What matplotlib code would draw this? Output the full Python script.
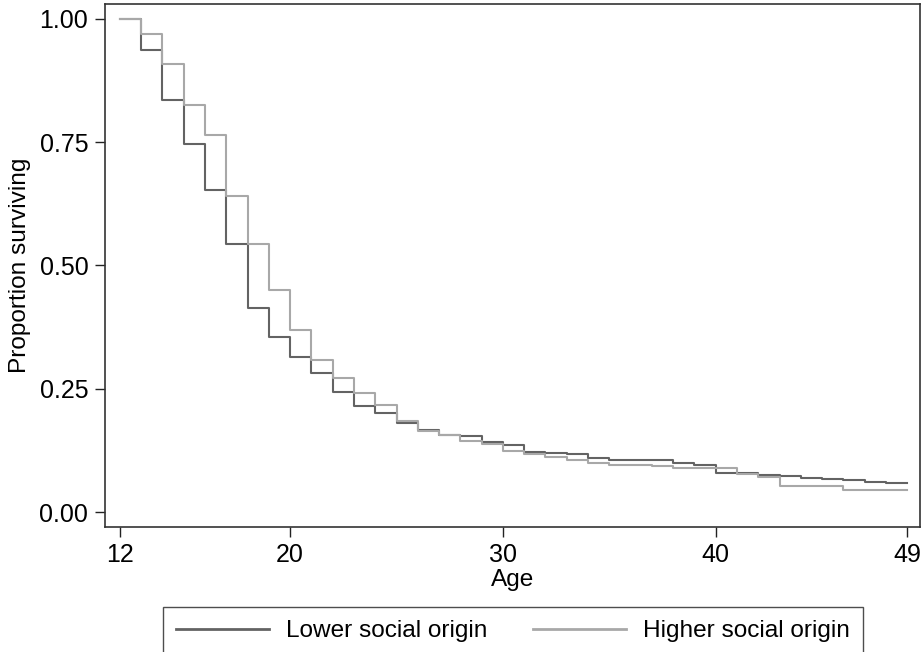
import matplotlib
matplotlib.use("Agg")
import matplotlib.pyplot as plt

# survival step values, one per age interval [age, age+1)
ages = list(range(12, 50))
lower = [1.000, 0.938, 0.835, 0.747, 0.654, 0.543, 0.414, 0.354, 0.314, 0.281,
         0.243, 0.216, 0.200, 0.181, 0.167, 0.157, 0.154, 0.142, 0.135, 0.121,
         0.120, 0.117, 0.109, 0.105, 0.105, 0.105, 0.100, 0.095, 0.080, 0.080,
         0.075, 0.074, 0.069, 0.066, 0.064, 0.061, 0.059]
higher = [1.000, 0.970, 0.908, 0.825, 0.764, 0.640, 0.544, 0.451, 0.369, 0.309,
          0.272, 0.241, 0.218, 0.185, 0.165, 0.156, 0.145, 0.138, 0.123, 0.117,
          0.111, 0.105, 0.099, 0.096, 0.096, 0.093, 0.089, 0.089, 0.089, 0.077,
          0.072, 0.053, 0.053, 0.053, 0.044, 0.044, 0.044]
labels = ["Lower social origin", "Higher social origin"]
xticks = [12, 20, 30, 40, 49]
yticks = [0.0, 0.25, 0.5, 0.75, 1.0]

plt.rcParams["font.family"] = ["Liberation Sans", "DejaVu Sans"]
FS = 17.6

fig = plt.figure(figsize=(9.21, 6.52), dpi=100)
ax = fig.add_axes([105 / 921, 1 - 526.7 / 652, 815 / 921, 522.7 / 652])

ax.step(ages, lower + lower[-1:], where="post", color="#636363", lw=1.5,
        label=labels[0])
ax.step(ages, higher + higher[-1:], where="post", color="#a8a8a8", lw=1.5,
        label=labels[1])

ax.set_xlim(11.3, 49.6)
ax.set_ylim(-0.0298, 1.0304)
ax.set_xticks(xticks)
ax.set_yticks(yticks)
ax.set_yticklabels([f"{v:.2f}" for v in yticks])
ax.tick_params(labelsize=18, length=7, width=1, pad=5, color="#222222")
for s in ax.spines.values():
    s.set_linewidth(1.2)
    s.set_color("#333333")

ax.set_xlabel("Age", fontsize=FS, labelpad=1)
ax.set_ylabel("Proportion surviving", fontsize=FS, labelpad=6)

fig.legend(loc="upper center", bbox_to_anchor=(513 / 921, 1 - 606.7 / 652),
           ncol=2, fontsize=FS, frameon=True, fancybox=False,
           edgecolor="#222222", handlelength=3.8, handletextpad=0.7,
           columnspacing=1.85, borderpad=0.55, borderaxespad=0)
leg = fig.legends[0]
leg.get_frame().set_linewidth(1.0)
for line in leg.get_lines():
    line.set_linewidth(2)

fig.savefig("out.png", dpi=100)
